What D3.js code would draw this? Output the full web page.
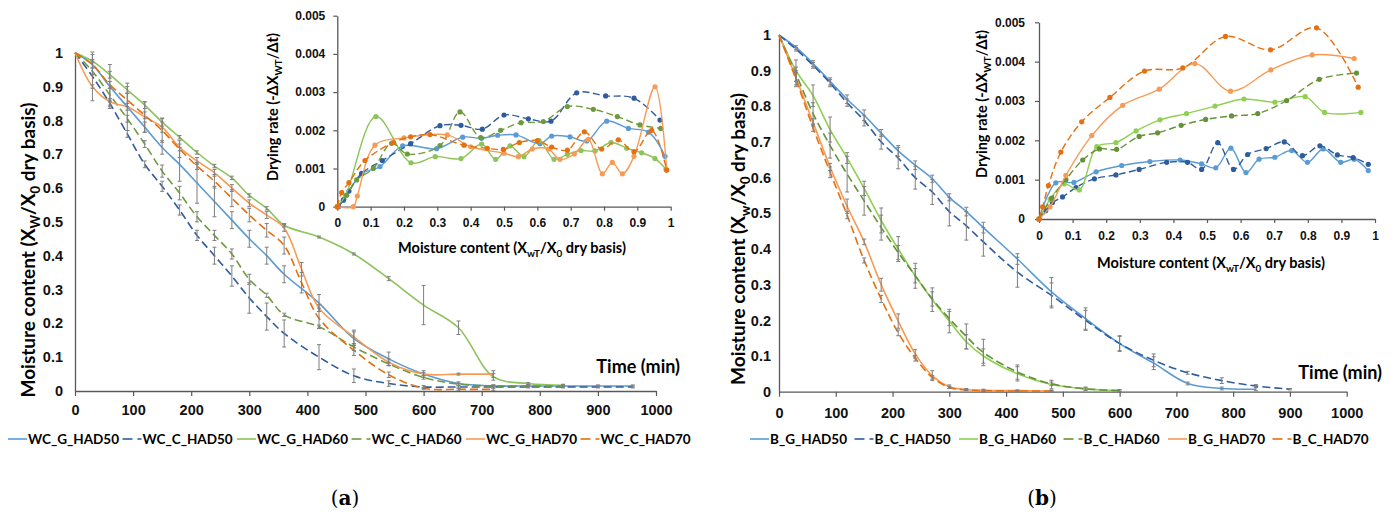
<!DOCTYPE html>
<html>
<head>
<meta charset="utf-8">
<script src="https://cdnjs.cloudflare.com/ajax/libs/d3/7.8.5/d3.min.js"></script>
<style>
    body { margin: 0; background: #fff; }
    svg { font-family: Lato, "Open Sans", sans-serif; font-weight: bold; }
    .domain { stroke: #595959; stroke-width: 1.3; }
    .tick line { stroke: #595959; stroke-width: 1.2; }
    .tick text { fill: #111; }
</style>
</head>
<body>
<svg id="chart" width="1395" height="515"></svg>
<script>
// ---------- tick labels ----------
var xTicksMain = [0, 100, 200, 300, 400, 500, 600, 700, 800, 900, 1000];
var yTicksMain = [0, 0.1, 0.2, 0.3, 0.4, 0.5, 0.6, 0.7, 0.8, 0.9, 1];
var xTicksInset = [0, 0.1, 0.2, 0.3, 0.4, 0.5, 0.6, 0.7, 0.8, 0.9, 1];
var yTicksInset = [0, 0.001, 0.002, 0.003, 0.004, 0.005];

// ---------- (a) walnut kernel ----------
var namesA = ["WC_G_HAD50", "WC_C_HAD50", "WC_G_HAD60", "WC_C_HAD60", "WC_G_HAD70", "WC_C_HAD70"];
var timesA = [0, 30, 60, 90, 120, 150, 180, 210, 240, 270, 300, 330, 360, 390, 420, 480, 540, 600, 660, 720, 780, 840, 900, 960];

var wcG50 = [1, 0.965, 0.9, 0.84, 0.78, 0.72, 0.67, 0.615, 0.56, 0.505, 0.45, 0.4, 0.345, null, 0.26, 0.155, 0.095, 0.05, 0.022, 0.015, 0.015, 0.015, 0.015, 0.015];
var wcC50 = [1, 0.93, 0.85, 0.76, 0.67, 0.605, 0.535, 0.46, 0.4, 0.34, 0.275, 0.22, 0.17, null, 0.1, 0.045, 0.022, 0.012, 0.012, 0.012, 0.012, 0.012, 0.012, 0.012];
var wcG60 = [1, 0.975, 0.935, 0.89, 0.845, 0.795, 0.75, 0.705, 0.665, 0.63, 0.578, 0.54, 0.49, null, 0.455, 0.405, 0.332, 0.254, 0.187, 0.042, 0.022, 0.017, null, null];
var wcC60 = [1, 0.945, 0.875, 0.805, 0.73, 0.65, 0.585, 0.515, 0.46, 0.405, 0.33, 0.283, 0.225, null, 0.19, 0.13, 0.08, 0.04, 0.02, 0.015, 0.015, 0.015, null, null];
var wcG70 = [1, 0.9, 0.855, 0.84, 0.81, 0.78, 0.72, 0.68, 0.645, 0.6, 0.555, 0.52, 0.482, 0.36, 0.245, 0.16, 0.085, 0.05, 0.05, 0.05, null, null, null, null];
var wcC70 = [1, 0.965, 0.905, 0.86, 0.815, 0.77, 0.715, 0.665, 0.62, 0.57, 0.52, 0.475, 0.43, 0.32, 0.215, 0.12, 0.048, 0.008, 0.005, 0.005, null, null, null, null];

var wcG50Err = [0, 0.01, 0.065, 0.07, 0.015, 0.02, 0.05, 0.06, 0.045, 0.025, 0.025, 0.025, 0.025, null, 0.025, 0.02, 0.02, 0.01, 0.005, 0.003, 0.003, 0.003, 0.003, 0.003];
var wcC50Err = [0, 0.072, 0.01, 0.01, 0.01, 0.015, 0.015, 0.015, 0.025, 0.03, 0.045, 0.04, 0.04, null, 0.037, 0.02, 0.008, 0.004, 0.003, 0.003, 0.003, 0.003, 0.003, 0.003];
var wcG60Err = [0, 0.005, 0.01, 0.01, 0.01, 0.012, 0.005, 0.005, 0.005, 0.005, 0.005, 0.005, 0.005, null, 0.003, 0.003, 0.006, 0.058, 0.02, 0.01, 0.003, 0.003, null, null];
var wcC60Err = [0, 0.01, 0.02, 0.01, 0.01, 0.018, 0.02, 0.015, 0.015, 0.015, 0.015, 0.006, 0.005, null, 0.005, 0.01, 0.005, 0.005, 0.003, 0.003, 0.003, 0.003, null, null];
var wcG70Err = [0, 0.005, 0.01, 0.01, 0.045, 0.015, 0.01, 0.01, 0.01, 0.01, 0.01, 0.01, 0.01, 0.02, 0.01, 0.02, 0.01, 0.005, 0.003, 0.01, null, null, null, null];
var wcC70Err = [0, 0.03, 0.01, 0.02, 0.01, 0.035, 0.025, 0.01, 0.02, 0.025, 0.02, 0.02, 0.025, 0.03, 0.03, 0.015, 0.008, 0.003, 0.003, 0.003, null, null, null, null];

// drying rate vs moisture content, [X/X0, rate]
var rateWcG50 = [[0.003, 0], [0.02, 0.0002], [0.073, 0.00086], [0.128, 0.00105], [0.196, 0.00159], [0.298, 0.00152], [0.376, 0.00182], [0.433, 0.00179], [0.481, 0.00187], [0.536, 0.00188], [0.608, 0.00165], [0.643, 0.00185], [0.698, 0.00183], [0.748, 0.00172], [0.808, 0.00224], [0.873, 0.00205], [0.934, 0.00195], [0.983, 0.00132]];
var rateWcC50 = [[0.003, 0], [0.018, 0.00017], [0.035, 0.00041], [0.073, 0.00087], [0.135, 0.00121], [0.22, 0.00165], [0.308, 0.00212], [0.371, 0.00213], [0.435, 0.00203], [0.5, 0.0024], [0.573, 0.0023], [0.641, 0.00224], [0.718, 0.00298], [0.805, 0.0029], [0.89, 0.00284], [0.968, 0.00227]];
var rateWcG60 = [[0, 0], [0.025, 0.0003], [0.116, 0.00236], [0.221, 0.00115], [0.294, 0.00131], [0.371, 0.00126], [0.433, 0.00164], [0.475, 0.00124], [0.518, 0.00159], [0.56, 0.00131], [0.605, 0.00173], [0.65, 0.00124], [0.69, 0.00137], [0.731, 0.00147], [0.773, 0.00146], [0.821, 0.00168], [0.868, 0.00153], [0.913, 0.00141], [0.953, 0.00126], [0.986, 0.00098]];
var rateWcC60 = [[0, 0], [0.028, 0.0003], [0.058, 0.0007], [0.108, 0.001], [0.163, 0.00166], [0.21, 0.00138], [0.308, 0.0016], [0.368, 0.00248], [0.43, 0.00181], [0.49, 0.002], [0.551, 0.0022], [0.618, 0.00223], [0.69, 0.00262], [0.768, 0.00255], [0.84, 0.00236], [0.908, 0.00214], [0.97, 0.00205]];
var rateWcG70 = [[0, 0], [0.048, 0], [0.06, 0.00028], [0.113, 0.00161], [0.2, 0.0018], [0.33, 0.00188], [0.4, 0.00157], [0.5, 0.0014], [0.543, 0.00131], [0.585, 0.00151], [0.633, 0.00151], [0.668, 0.00124], [0.711, 0.00138], [0.753, 0.00176], [0.795, 0.00086], [0.825, 0.00116], [0.855, 0.00086], [0.89, 0.00132], [0.953, 0.00314], [0.988, 0.00096]];
var rateWcC70 = [[0, 0], [0.013, 0.00037], [0.035, 0.00063], [0.083, 0.00121], [0.168, 0.00168], [0.22, 0.00183], [0.278, 0.00189], [0.38, 0.00161], [0.45, 0.00153], [0.498, 0.0015], [0.546, 0.00168], [0.6, 0.00173], [0.643, 0.00156], [0.69, 0.00148], [0.741, 0.00196], [0.793, 0.00151], [0.843, 0.00175], [0.89, 0.00144], [0.943, 0.002], [0.988, 0.00096]];

// ---------- (b) ----------
var namesB = ["B_G_HAD50", "B_C_HAD50", "B_G_HAD60", "B_C_HAD60", "B_G_HAD70", "B_C_HAD70"];
var timesB = [0, 30, 60, 90, 120, 150, 180, 210, 240, 270, 300, 330, 360, 420, 480, 540, 600, 660, 720, 780, 840, 900];

var bG50 = [1, 0.965, 0.92, 0.87, 0.82, 0.775, 0.725, 0.675, 0.635, 0.597, 0.545, 0.505, 0.46, 0.372, 0.28, 0.205, 0.135, 0.08, 0.023, 0.009, 0.007, null];
var bC50 = [1, 0.96, 0.915, 0.865, 0.81, 0.76, 0.7, 0.655, 0.6, 0.56, 0.505, 0.465, 0.42, 0.335, 0.27, 0.2, 0.135, 0.088, 0.053, 0.031, 0.016, 0.007];
var bG60 = [1, 0.9, 0.83, 0.735, 0.655, 0.57, 0.48, 0.4, 0.325, 0.258, 0.198, 0.14, 0.1, 0.05, 0.02, 0.008, 0.003, null, null, null, null, null];
var bC60 = [1, 0.89, 0.78, 0.69, 0.61, 0.535, 0.46, 0.39, 0.325, 0.26, 0.205, 0.155, 0.11, 0.055, 0.022, 0.008, 0.003, null, null, null, null, null];
var bG70 = [1, 0.88, 0.755, 0.63, 0.52, 0.42, 0.3, 0.198, 0.106, 0.045, 0.014, 0.006, 0.004, 0.003, 0.002, null, null, null, null, null, null, null];
var bC70 = [1, 0.875, 0.74, 0.615, 0.495, 0.368, 0.26, 0.165, 0.094, 0.04, 0.012, 0.005, 0.003, 0.002, 0.002, null, null, null, null, null, null, null];

var bG50Err = [0, 0.005, 0.008, 0.01, 0.012, 0.015, 0.01, 0.015, 0.012, 0.01, 0.01, 0.012, 0.015, 0.015, 0.04, 0.03, 0.022, 0.018, 0.004, 0.004, 0.004, null];
var bC50Err = [0, 0.005, 0.008, 0.01, 0.01, 0.015, 0.02, 0.03, 0.032, 0.035, 0.04, 0.04, 0.04, 0.042, 0.035, 0.028, 0.02, 0.018, 0.004, 0.008, 0.004, 0.002];
var bG60Err = [0, 0.03, 0.03, 0.035, 0.015, 0.02, 0.035, 0.035, 0.02, 0.033, 0.033, 0.02, 0.02, 0.02, 0.012, 0.005, 0.003, null, null, null, null, null];
var bC60Err = [0, 0.02, 0.03, 0.035, 0.05, 0.04, 0.035, 0.02, 0.035, 0.02, 0.02, 0.035, 0.037, 0.02, 0.005, 0.003, 0.002, null, null, null, null, null];
var bG70Err = [0, 0.02, 0.01, 0.01, 0.02, 0.008, 0.018, 0.02, 0.012, 0.014, 0.005, 0.003, 0.003, 0.002, 0.002, null, null, null, null, null, null, null];
var bC70Err = [0, 0.02, 0.01, 0.015, 0.01, 0.007, 0.01, 0.008, 0.008, 0.005, 0.003, 0.002, 0.002, 0.002, 0.002, null, null, null, null, null, null, null];

var rateBG50 = [[0, 0], [0.05, 0.00092], [0.104, 0.00093], [0.17, 0.0012], [0.246, 0.00136], [0.33, 0.00146], [0.42, 0.0015], [0.484, 0.0014], [0.526, 0.0013], [0.571, 0.0018], [0.616, 0.00118], [0.655, 0.00152], [0.702, 0.00157], [0.752, 0.00174], [0.799, 0.00144], [0.846, 0.00178], [0.898, 0.00144], [0.938, 0.00152], [0.98, 0.00123]];
var rateBC50 = [[0, 0], [0.02, 0.00021], [0.04, 0.00042], [0.07, 0.00056], [0.11, 0.0008], [0.165, 0.00102], [0.229, 0.00112], [0.298, 0.00126], [0.38, 0.00144], [0.442, 0.00144], [0.484, 0.00126], [0.532, 0.00194], [0.579, 0.00126], [0.621, 0.00164], [0.676, 0.00179], [0.73, 0.00196], [0.784, 0.00161], [0.836, 0.00186], [0.888, 0.00163], [0.935, 0.00156], [0.98, 0.00139]];
var rateBG60 = [[0, 0], [0.033, 0.0005], [0.075, 0.00089], [0.12, 0.00074], [0.172, 0.00184], [0.229, 0.00194], [0.289, 0.00224], [0.36, 0.00252], [0.439, 0.00268], [0.524, 0.00287], [0.61, 0.00305], [0.702, 0.00297], [0.792, 0.00311], [0.85, 0.00271], [0.958, 0.00271]];
var rateBC60 = [[0, 0], [0.038, 0.00053], [0.08, 0.001], [0.13, 0.0015], [0.18, 0.00178], [0.231, 0.00177], [0.298, 0.0021], [0.353, 0.00219], [0.423, 0.00238], [0.496, 0.00253], [0.573, 0.00262], [0.651, 0.00268], [0.737, 0.00301], [0.834, 0.00355], [0.945, 0.00371]];
var rateBG70 = [[0, 0], [0.033, 0.00031], [0.08, 0.00111], [0.157, 0.00212], [0.249, 0.00289], [0.358, 0.0033], [0.464, 0.00395], [0.57, 0.00325], [0.69, 0.00379], [0.813, 0.00417], [0.938, 0.00408]];
var rateBC70 = [[0, 0], [0.011, 0.00031], [0.028, 0.00085], [0.065, 0.0017], [0.127, 0.00247], [0.211, 0.00309], [0.314, 0.00376], [0.428, 0.00384], [0.555, 0.00464], [0.689, 0.0043], [0.826, 0.00486], [0.95, 0.00335]];

// ---------- styles ----------
var colorsA = ["#5B9BD5", "#2F5C9E", "#8CC35A", "#6E9A3E", "#F79A55", "#E5700F"];
var colorsB = ["#5B9BD5", "#2F5C9E", "#8FD052", "#65913A", "#F79A55", "#E5700F"];
var dashedSeries = [false, true, false, true, false, true];


/*
* DryingPanel - one figure panel: main drying curve plus inset drying-rate chart
*/
DryingPanel = function(_svg, _cfg) {
    this.svg = _svg;
    this.cfg = _cfg;
    this.initVis();
}

DryingPanel.prototype.initVis = function() {
    var vis = this;
    var cfg = vis.cfg;

    vis.g = vis.svg.append("g");

    // main scales
    vis.x = d3.scaleLinear().domain([0, 1000]).range([cfg.main.left, cfg.main.right]);
    vis.y = d3.scaleLinear().domain([0, 1]).range([cfg.main.bottom, cfg.main.top]);

    // inset scales
    vis.ix = d3.scaleLinear().domain([0, 1]).range([cfg.inset.left, cfg.inset.right]);
    vis.iy = d3.scaleLinear().domain([0, 0.005]).range([cfg.inset.bottom, cfg.inset.top]);

    // main axes
    vis.g.append("g")
        .attr("transform", "translate(0," + cfg.main.bottom + ")")
        .style("font-size", "14.5px")
        .call(d3.axisBottom(vis.x).tickValues(xTicksMain).tickSize(5).tickPadding(cfg.main.xPad).tickSizeOuter(0)
            .tickFormat(d3.format("d")));

    vis.g.append("g")
        .attr("transform", "translate(" + cfg.main.left + ",0)")
        .style("font-size", "14.5px")
        .call(d3.axisLeft(vis.y).tickValues(yTicksMain).tickSize(0).tickPadding(cfg.main.yPad)
            .tickFormat(d3.format(".1~f")));

    vis.g.selectAll("text").attr("font-family", null);

    // main lines
    var line = d3.line()
        .x(function(d) { return vis.x(d.t); })
        .y(function(d) { return vis.y(d.v); })
        .curve(d3.curveCatmullRom);

    cfg.series.forEach(function(s, k) {
        var pts = cfg.times.map(function(t, i) {
            return {t: t, v: s.values[i], e: s.errors[i]};
        }).filter(function(d) { return d.v != null; });
        s.pts = pts;

        vis.g.append("path")
            .datum(pts)
            .attr("d", line)
            .attr("fill", "none")
            .attr("stroke", s.color)
            .attr("stroke-width", 1.6)
            .attr("stroke-dasharray", s.dashed ? "8,4" : null);
    });

    // error bars
    cfg.series.forEach(function(s) {
        var eb = vis.g.append("g").selectAll("g")
            .data(s.pts.filter(function(d) { return d.e > 0; }))
            .enter().append("g")
            .attr("stroke", "#7f7f7f")
            .attr("stroke-width", 1);
        eb.append("line")
            .attr("x1", function(d) { return vis.x(d.t); })
            .attr("x2", function(d) { return vis.x(d.t); })
            .attr("y1", function(d) { return vis.y(d.v - d.e); })
            .attr("y2", function(d) { return vis.y(Math.min(d.v + d.e, 1.0)); });
        [-1, 1].forEach(function(sign) {
            eb.append("line")
                .attr("x1", function(d) { return vis.x(d.t) - 2; })
                .attr("x2", function(d) { return vis.x(d.t) + 2; })
                .attr("y1", function(d) { return vis.y(d.v + sign * d.e); })
                .attr("y2", function(d) { return vis.y(d.v + sign * d.e); });
        });
    });

    // main titles
    vis.richText(vis.g.append("text")
        .attr("transform", "translate(" + cfg.yTitle[0] + "," + cfg.yTitle[1] + ") rotate(-90)")
        .attr("text-anchor", "middle")
        .attr("dy", "0.35em")
        .style("font-size", "19px"), cfg.yTitleParts, 19);

    vis.g.append("text")
        .attr("x", cfg.timeLabel[0])
        .attr("y", cfg.timeLabel[1])
        .attr("text-anchor", "end")
        .style("font-size", "18px")
        .text("Time (min)");

    // inset axes
    vis.g.append("g")
        .attr("transform", "translate(0," + cfg.inset.bottom + ")")
        .style("font-size", "12px")
        .call(d3.axisBottom(vis.ix).tickValues(xTicksInset).tickSize(4).tickPadding(8).tickSizeOuter(0)
            .tickFormat(d3.format(".1~f")));

    vis.g.append("g")
        .attr("transform", "translate(" + cfg.inset.left + ",0)")
        .style("font-size", "12px")
        .call(d3.axisLeft(vis.iy).tickValues(yTicksInset).tickSize(4).tickPadding(cfg.inset.yPad).tickSizeOuter(0)
            .tickFormat(d3.format(".3~f")));

    vis.g.selectAll("text").attr("font-family", null);

    var iline = d3.line()
        .x(function(d) { return vis.ix(d[0]); })
        .y(function(d) { return vis.iy(d[1]); })
        .curve(d3.curveCatmullRom);

    cfg.series.forEach(function(s) {
        vis.g.append("path")
            .datum(s.rate)
            .attr("d", iline)
            .attr("fill", "none")
            .attr("stroke", s.color)
            .attr("stroke-width", 1.4)
            .attr("stroke-dasharray", s.dashed ? "7,3.5" : null);

        vis.g.append("g").selectAll("circle")
            .data(s.rate)
            .enter().append("circle")
            .attr("cx", function(d) { return vis.ix(d[0]); })
            .attr("cy", function(d) { return vis.iy(d[1]); })
            .attr("r", 2.6)
            .attr("fill", s.color);
    });

    // inset titles
    vis.richText(vis.g.append("text")
        .attr("x", cfg.insetXTitle[0])
        .attr("y", cfg.insetXTitle[1])
        .attr("text-anchor", "middle")
        .style("font-size", "14.5px"),
        [["Moisture content (X"], ["wT", 1], ["/X"], ["0", 1], [" dry basis)"]], 14.5);

    vis.richText(vis.g.append("text")
        .attr("transform", "translate(" + cfg.insetYTitle[0] + "," + cfg.insetYTitle[1] + ") rotate(-90)")
        .attr("text-anchor", "middle")
        .attr("dy", "0.35em")
        .style("font-size", "14.5px"),
        [["Drying rate (-\u0394X"], ["WT", 1], ["/\u0394t)"]], 14.5);

    // legend
    var lg = vis.g.append("g").attr("transform", "translate(0," + cfg.legend.y + ")");
    cfg.series.forEach(function(s, k) {
        var x0 = cfg.legend.x + k * cfg.legend.step;
        if (s.dashed) {
            lg.append("line").attr("x1", x0).attr("x2", x0 + 10).attr("y1", 0).attr("y2", 0)
                .attr("stroke", s.color).attr("stroke-width", 1.6);
            lg.append("line").attr("x1", x0 + 15).attr("x2", x0 + 19).attr("y1", 0).attr("y2", 0)
                .attr("stroke", s.color).attr("stroke-width", 1.6);
        } else {
            lg.append("line").attr("x1", x0).attr("x2", x0 + 19).attr("y1", 0).attr("y2", 0)
                .attr("stroke", s.color).attr("stroke-width", 1.6);
        }
        lg.append("text")
            .attr("x", x0 + 20)
            .attr("y", 0)
            .attr("dy", "0.36em")
            .style("font-size", "13.5px")
            .text(s.name);
    });

    // panel letter
    var pl = vis.g.append("text")
        .attr("x", cfg.letter[0])
        .attr("y", cfg.letter[1])
        .attr("text-anchor", "middle")
        .style("font-family", "'DejaVu Serif', 'Liberation Serif', serif")
        .style("font-weight", "normal")
        .style("font-size", "20px");
    pl.append("tspan").text("(");
    pl.append("tspan").style("font-weight", "bold").text(cfg.letterText);
    pl.append("tspan").text(")");
}

// text with subscripts: parts = [[string, isSub], ...]
DryingPanel.prototype.richText = function(sel, parts, size) {
    var shift = size * 0.28;
    parts.forEach(function(p) {
        var ts = sel.append("tspan").text(p[0]);
        if (p[1]) {
            ts.attr("dy", shift).style("font-size", (size * 0.68) + "px");
        }
        else if (sel.selectAll("tspan").size() > 1) {
            ts.attr("dy", -shift);
        }
    });
}


function buildSeries(names, vals, errs, rates, colors) {
    return names.map(function(n, i) {
        return {name: n, values: vals[i], errors: errs[i], rate: rates[i], color: colors[i], dashed: dashedSeries[i]};
    });
}

var svg = d3.select("#chart");

var panelA = new DryingPanel(svg, {
    times: timesA,
    series: buildSeries(namesA,
        [wcG50, wcC50, wcG60, wcC60, wcG70, wcC70],
        [wcG50Err, wcC50Err, wcG60Err, wcC60Err, wcG70Err, wcC70Err],
        [rateWcG50, rateWcC50, rateWcG60, rateWcC60, rateWcG70, rateWcC70],
        colorsA),
    main: {left: 75, right: 656, top: 52.7, bottom: 391, xPad: 9, yPad: 12},
    inset: {left: 337.3, right: 670.7, top: 15.7, bottom: 206.7, yPad: 8},
    yTitle: [28, 250],
    yTitleParts: [["Moisture content (X"], ["W", 1], ["/X"], ["0", 1], [" dry basis)"]],
    timeLabel: [680, 373],
    insetXTitle: [512, 253],
    insetYTitle: [273, 107],
    legend: {x: 8, y: 439, step: 114.5},
    letter: [345, 505],
    letterText: "a"
});

var panelB = new DryingPanel(svg, {
    times: timesB,
    series: buildSeries(namesB,
        [bG50, bC50, bG60, bC60, bG70, bC70],
        [bG50Err, bC50Err, bG60Err, bC60Err, bG70Err, bC70Err],
        [rateBG50, rateBC50, rateBG60, rateBC60, rateBG70, rateBC70],
        colorsB),
    main: {left: 779, right: 1346.7, top: 35, bottom: 391.7, xPad: 11, yPad: 8},
    inset: {left: 1039, right: 1375, top: 22.3, bottom: 219, yPad: 10},
    yTitle: [738, 239],
    yTitleParts: [["Moisture content (X"], ["w", 1], ["/X"], ["0", 1], [" dry basis)"]],
    timeLabel: [1382, 379],
    insetXTitle: [1211, 268],
    insetYTitle: [982, 104],
    legend: {x: 750, y: 439, step: 104.5},
    letter: [1042, 505],
    letterText: "b"
});
</script>
</body>
</html>
